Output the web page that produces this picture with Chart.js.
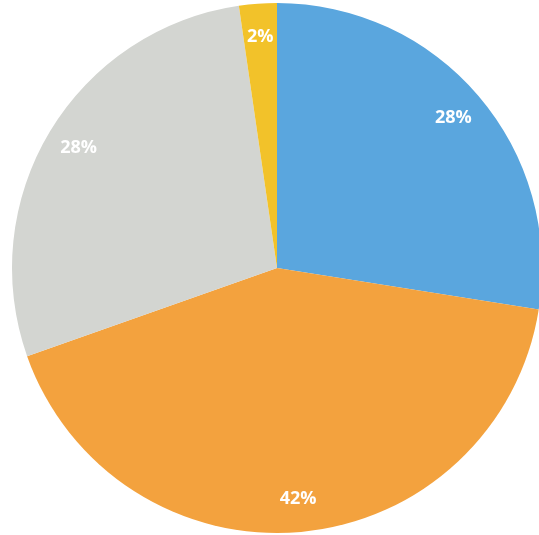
<!DOCTYPE html>
<html>
<head>
<meta charset="utf-8">
<script src="https://cdn.jsdelivr.net/npm/chart.js@4"></script>
<style>
  html, body { margin: 0; padding: 0; background: #ffffff; overflow: hidden; }
  #wrap { width: 542px; height: 535px; position: relative; }
</style>
</head>
<body>
<div id="wrap"><canvas id="pie"></canvas></div>
<script>
// slices, clockwise from 12 o'clock (labels round them)
const sliceNames = ['A', 'B', 'C', 'D'];
const sliceValues = [27.5, 42.1, 28.1, 2.3];
const sliceColors = ['#5aa6de', '#f3a23e', '#d3d5d1', '#f2c22a'];

// white % labels near the outer edge of each slice
const pctLabels = {
    id: 'pctLabels',
    afterDatasetsDraw(chart) {
        const ctx = chart.ctx;
        const total = sliceValues.reduce((a, b) => a + b, 0);
        chart.getDatasetMeta(0).data.forEach((arc, i) => {
            const p = arc.getProps(['x', 'y', 'startAngle', 'endAngle', 'outerRadius']);
            const mid = (p.startAngle + p.endAngle) / 2;
            const r = p.outerRadius * 0.875;
            ctx.save();
            ctx.fillStyle = '#ffffff';
            ctx.font = 'bold 18px "Open Sans", sans-serif';
            ctx.textAlign = 'center';
            ctx.textBaseline = 'middle';
            ctx.fillText(Math.round(sliceValues[i] / total * 100) + '%',
                p.x + Math.cos(mid) * r, p.y + Math.sin(mid) * r);
            ctx.restore();
        });
    }
};

new Chart(document.getElementById('pie'), {
    type: 'pie',
    data: {
        labels: sliceNames,
        datasets: [{
            data: sliceValues,
            backgroundColor: sliceColors,
            borderWidth: 0
        }]
    },
    options: {
        responsive: true,
        maintainAspectRatio: false,
        animation: false,
        layout: { padding: { left: 12, top: 3, bottom: 2, right: 0 } },
        plugins: {
            legend: { display: false },
            tooltip: { enabled: false }
        }
    },
    plugins: [pctLabels]
});
</script>
</body>
</html>
